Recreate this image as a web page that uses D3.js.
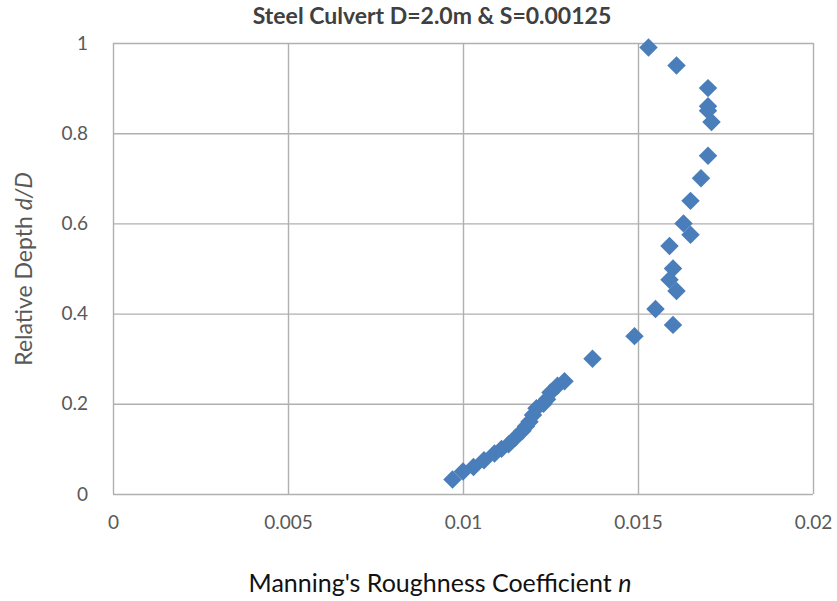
<!DOCTYPE html>
<html>
<head>
<meta charset="utf-8">
<script src="https://cdn.jsdelivr.net/npm/d3@7"></script>
<style>
  html, body { margin: 0; padding: 0; background: #fff; }
  svg { display: block; }
  text { font-family: Lato, "Open Sans", sans-serif; }
</style>
</head>
<body>
<svg id="chart" width="837" height="601"></svg>
<script>
// Manning's n measured at each relative depth d/D
const roughnessN = [
  0.0153, 0.0161, 0.0170, 0.0170, 0.0170, 0.0171, 0.0170, 0.0168, 0.0165,
  0.0163, 0.0165, 0.0159, 0.0160, 0.0159, 0.0161, 0.0155, 0.0160, 0.0149,
  0.0137, 0.0129, 0.0127, 0.0125, 0.0124, 0.0123, 0.0121, 0.0120, 0.0119,
  0.0118, 0.0117, 0.0115, 0.0113, 0.0111, 0.0109, 0.0106, 0.0103, 0.0100,
  0.0097
];
const relativeDepth = [
  0.99, 0.95, 0.90, 0.86, 0.85, 0.825, 0.75, 0.70, 0.65,
  0.60, 0.575, 0.55, 0.50, 0.475, 0.45, 0.41, 0.375, 0.35,
  0.30, 0.25, 0.24, 0.225, 0.21, 0.20, 0.19, 0.175, 0.16,
  0.15, 0.14, 0.125, 0.11, 0.10, 0.09, 0.075, 0.06, 0.05,
  0.032
];
const xTicks = [0, 0.005, 0.01, 0.015, 0.02];
const yTicks = [0, 0.2, 0.4, 0.6, 0.8, 1];
const chartTitle = "Steel Culvert D=2.0m & S=0.00125";

const svg = d3.select("#chart");
const plot = { left: 113, right: 813, top: 43, bottom: 494 };

const x = d3.scaleLinear().domain([0, 0.02]).range([plot.left, plot.right]);
const y = d3.scaleLinear().domain([0, 1]).range([plot.bottom, plot.top]);

svg.append("rect").attr("width", 837).attr("height", 601).attr("fill", "#fff");

// gridlines (vertical and horizontal), incl. plot frame
const gridColor = "#b0b0b0";
svg.append("g")
  .attr("transform", `translate(0,${plot.bottom})`)
  .call(d3.axisBottom(x).tickValues(xTicks).tickSize(-(plot.bottom - plot.top)).tickFormat(""))
  .call(g => g.select(".domain").remove())
  .call(g => g.selectAll("line").attr("stroke", gridColor).attr("stroke-width", 1.4));

svg.append("g")
  .attr("transform", `translate(${plot.left},0)`)
  .call(d3.axisLeft(y).tickValues(yTicks).tickSize(-(plot.right - plot.left)).tickFormat(""))
  .call(g => g.select(".domain").remove())
  .call(g => g.selectAll("line").attr("stroke", gridColor).attr("stroke-width", 1.4));

// tick labels
const fmt = d => d3.format("")(+d.toFixed(4));
svg.append("g")
  .attr("transform", `translate(0,${plot.bottom + 18})`)
  .call(d3.axisBottom(x).tickValues(xTicks).tickSize(0).tickFormat(fmt))
  .call(g => g.select(".domain").remove())
  .call(g => g.selectAll("text")
    .attr("fill", "#595959").attr("font-size", 19).attr("font-family", "Lato"));

svg.append("g")
  .attr("transform", `translate(${plot.left - 22},0)`)
  .call(d3.axisLeft(y).tickValues(yTicks).tickSize(0).tickFormat(fmt))
  .call(g => g.select(".domain").remove())
  .call(g => g.selectAll("text")
    .attr("fill", "#595959").attr("font-size", 19).attr("font-family", "Lato"));

// markers: square rotated into a diamond
const diamond = d3.symbol(d3.symbolSquare, 170);
svg.append("g")
  .selectAll("path")
  .data(roughnessN.map((n, i) => ({ n, d: relativeDepth[i] })))
  .join("path")
  .attr("d", diamond)
  .attr("transform", p => `translate(${x(p.n)},${y(p.d)}) rotate(45)`)
  .attr("fill", "#4a7ebb");

// titles
svg.append("text")
  .attr("x", 432).attr("y", 24)
  .attr("text-anchor", "middle")
  .attr("font-size", 23).attr("font-weight", "bold")
  .attr("fill", "#404040")
  .text(chartTitle);

const xt = svg.append("text")
  .attr("x", 440).attr("y", 592)
  .attr("text-anchor", "middle")
  .attr("font-size", 25).attr("fill", "#111");
xt.append("tspan").text("Manning's Roughness Coefficient ");
xt.append("tspan").attr("font-style", "italic").text("n");

const yt = svg.append("text")
  .attr("transform", "translate(32,269) rotate(-90)")
  .attr("text-anchor", "middle")
  .attr("font-size", 23).attr("fill", "#595959");
yt.append("tspan").text("Relative Depth ");
yt.append("tspan").attr("font-style", "italic").text("d/D");
</script>
</body>
</html>
